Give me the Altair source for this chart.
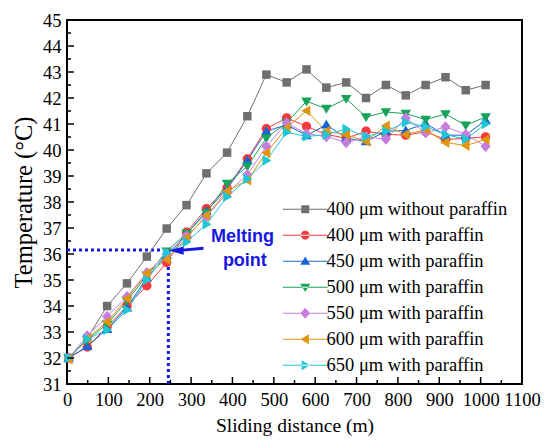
import altair as alt
import pandas as pd

# ---- data ----
distance = [4, 49, 97, 145, 193, 241, 289, 337, 387, 436, 482, 531, 579, 627, 675, 723, 771, 819, 867, 915, 964, 1012]

s400_wo = [32.0, 32.75, 34.0, 34.87, 35.9, 36.98, 37.88, 39.1, 39.9, 41.3, 42.9, 42.6, 43.1, 42.4, 42.6, 42.0, 42.5, 42.1, 42.5, 42.8, 42.3, 42.5]
s400 = [32.0, 32.42, 33.2, 34.0, 34.78, 35.67, 36.84, 37.74, 38.54, 39.66, 40.82, 41.23, 40.91, 40.6, 40.45, 40.72, 40.6, 40.57, 40.7, 40.4, 40.45, 40.5]
s450 = [32.0, 32.45, 33.11, 33.94, 35.09, 35.95, 36.75, 37.65, 38.5, 39.6, 40.72, 40.97, 40.56, 40.97, 40.46, 40.33, 40.72, 40.75, 41.02, 40.57, 40.57, 41.15]
s500 = [32.0, 32.7, 33.3, 34.2, 35.18, 36.1, 36.79, 37.58, 38.71, 39.37, 40.46, 41.05, 41.87, 41.59, 41.97, 41.27, 41.46, 41.4, 41.17, 41.38, 40.95, 41.27]
s550 = [32.0, 32.85, 33.6, 34.36, 35.28, 36.0, 36.69, 37.43, 38.35, 39.05, 40.14, 41.04, 40.62, 40.52, 40.29, 40.5, 40.42, 41.23, 40.66, 40.89, 40.6, 40.14]
s600 = [31.95, 32.75, 33.39, 34.29, 35.26, 35.79, 36.62, 37.48, 38.41, 38.84, 39.89, 40.85, 41.51, 40.72, 40.59, 40.33, 40.93, 40.6, 40.78, 40.29, 40.17, 40.4]
s650 = [32.0, 32.73, 33.08, 33.85, 35.0, 36.05, 36.46, 37.14, 38.2, 38.89, 39.6, 40.68, 40.52, 40.59, 40.81, 40.52, 40.72, 41.06, 40.9, 40.59, 40.42, 41.0]

names = ["400 μm without paraffin", "400 μm with paraffin", "450 μm with paraffin",
         "500 μm with paraffin", "550 μm with paraffin", "600 μm with paraffin",
         "650 μm with paraffin"]
series = [s400_wo, s400, s450, s500, s550, s600, s650]
colors = ["#6f6f6f", "#f53a3c", "#1665d8", "#17a45a", "#c67ddf", "#df950e", "#1fc6d3"]

marker_paths = [
    "M-1,-1H1V1H-1Z",
    "M-1.1,0A1.1,1.1 0 1,0 1.1,0A1.1,1.1 0 1,0 -1.1,0Z",
    "M0,-1.2L1.25,0.9L-1.25,0.9Z",
    "M0,1.2L1.25,-0.9L-1.25,-0.9Z",
    "M0,-1.35L1.2,0L0,1.35L-1.2,0Z",
    "M-1.2,0L0.9,-1.25L0.9,1.25Z",
    "M1.2,0L-0.9,-1.25L-0.9,1.25Z",
]
# legend symbols: a thin filled bar (the line) behind the marker
legend_paths = ["M-5.6,-0.13H5.6V0.13H-5.6Z" + p for p in marker_paths]

x_major = list(range(0, 1101, 100))
x_minor = list(range(50, 1100, 100))
y_major = list(range(31, 46))
y_minor = [v + 0.5 for v in range(31, 45)]

melt_T = 36.15
melt_x = 245

rows = []
for name, vals in zip(names, series):
    for d, t in zip(distance, vals):
        rows.append({"x": d, "T": t, "series": name})
df = pd.DataFrame(rows)

SERIF = "Liberation Serif"
xs = alt.Scale(domain=[0, 1100], nice=False, zero=False)
ys = alt.Scale(domain=[31, 45], nice=False, zero=False)

X = alt.X("x:Q", scale=xs, title="Sliding distance (m)",
          axis=alt.Axis(values=x_major, format="d", ticks=False, domain=False, grid=False,
                        labelFont=SERIF, titleFont=SERIF, labelColor="black", titleColor="black",
                        titleFontWeight="normal",
                        labelFontSize=18.5, labelPadding=6, titleFontSize=19.5,
                        titlePadding=8, labelFlush=False))
Y = alt.Y("T:Q", scale=ys, title="Temperature (°C)",
          axis=alt.Axis(values=y_major, format="d", ticks=False, domain=False, grid=False,
                        labelFont=SERIF, titleFont=SERIF, labelColor="black", titleColor="black",
                        titleFontWeight="normal",
                        labelFontSize=18.5, labelPadding=6, titleFontSize=24.5,
                        titlePadding=6, labelFlush=False))

blue = "#1717e3"

def cs():
    return alt.Scale(domain=names, range=colors)

# melting point guide lines
hline = alt.Chart(pd.DataFrame({"x": [0], "x2": [melt_x], "T": [melt_T]})).mark_rule(
    color=blue, strokeWidth=3, strokeDash=[3, 3]).encode(x=X, x2="x2:Q", y=Y)
vline = alt.Chart(pd.DataFrame({"x": [melt_x], "T": [31], "T2": [melt_T]})).mark_rule(
    color=blue, strokeWidth=3, strokeDash=[3, 3]).encode(x=X, y=Y, y2="T2:Q")

lines = alt.Chart(df).mark_line(strokeWidth=1).encode(
    x=X, y=Y, color=alt.Color("series:N", scale=cs(), legend=None),
    detail="series:N")

points = alt.Chart(df).mark_point(filled=True, size=72, opacity=1).encode(
    x=X, y=Y,
    color=alt.Color("series:N", scale=cs(), legend=None),
    shape=alt.Shape("series:N", scale=alt.Scale(domain=names, range=marker_paths), legend=None),
)

leg = alt.Legend(orient="none", legendX=229, legendY=180, title=None,
                 labelFont=SERIF, labelFontSize=18.5, labelColor="black",
                 symbolSize=64, labelOffset=12, rowPadding=7, symbolStrokeWidth=0,
                 symbolOpacity=1, labelLimit=400)
legend_layer = alt.Chart(df).transform_filter(alt.datum.T > 100).mark_point(
    filled=True, size=64, opacity=1).encode(
    x=X, y=Y,
    color=alt.Color("series:N", scale=cs(), legend=leg),
    shape=alt.Shape("series:N", scale=alt.Scale(domain=names, range=legend_paths), legend=leg),
)

# arrow
arrow_shaft = alt.Chart(pd.DataFrame({"x": [330], "x2": [266], "T": [36.22], "T2": [36.13]})).mark_rule(
    color=blue, strokeWidth=3).encode(x=X, x2="x2:Q", y=Y, y2="T2:Q")
arrow_head = alt.Chart(pd.DataFrame({"x": [264], "T": [36.13]})).mark_point(
    filled=True, color=blue, opacity=1, size=225, shape="M-1,0L1,-0.55L1,0.55Z").encode(x=X, y=Y)

label_df = pd.DataFrame({"x": [424, 430], "T": [36.65, 35.73], "txt": ["Melting", "point"]})
label = alt.Chart(label_df).mark_text(font="Liberation Sans", fontWeight="bold", fontSize=18,
                                      color=blue, align="center", baseline="middle").encode(
    x=X, y=Y, text="txt:N")

# inward ticks
xt_major = alt.Chart(pd.DataFrame({"x": x_major})).mark_rule(color="black", strokeWidth=1.5).encode(
    x=X, y=alt.value(364), y2=alt.value(357))
xt_minor = alt.Chart(pd.DataFrame({"x": x_minor})).mark_rule(color="black", strokeWidth=1.5).encode(
    x=X, y=alt.value(364), y2=alt.value(360))
yt_major = alt.Chart(pd.DataFrame({"T": y_major})).mark_rule(color="black", strokeWidth=1.5).encode(
    y=Y, x=alt.value(0), x2=alt.value(7))
yt_minor = alt.Chart(pd.DataFrame({"T": y_minor})).mark_rule(color="black", strokeWidth=1.5).encode(
    y=Y, x=alt.value(0), x2=alt.value(4))

chart = alt.layer(
    hline, vline, lines, points, legend_layer, arrow_shaft, arrow_head, label,
    xt_major, xt_minor, yt_major, yt_minor,
).resolve_scale(shape="independent", color="independent").properties(
    width=455, height=364,
    autosize=alt.AutoSizeParams(type="none"),
    padding={"left": 59, "top": 12, "right": 20, "bottom": 56},
    background="white",
).configure_view(stroke="black", strokeWidth=2)

chart.save("out.html", embed_options={"renderer": "svg", "actions": False})
